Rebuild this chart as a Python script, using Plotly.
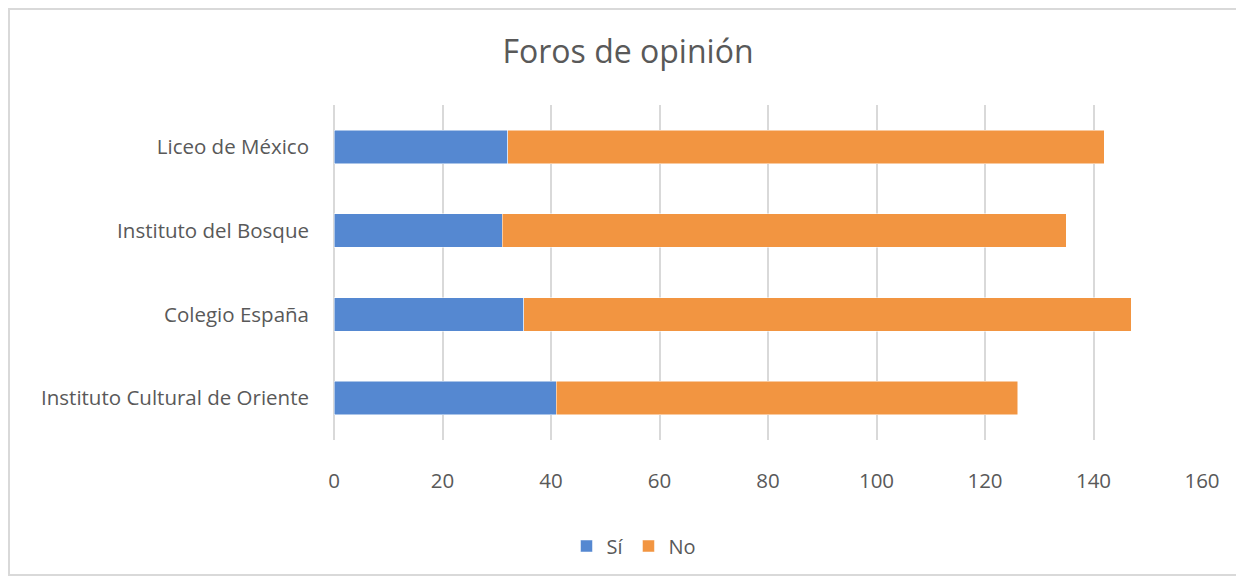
import plotly.graph_objects as go

# =========================
# DATOS
# =========================

colegios = [
    "Instituto Cultural de Oriente",
    "Colegio España",
    "Instituto del Bosque",
    "Liceo de México",
]
si = [41, 35, 31, 32]
no = [85, 112, 104, 110]

x_ticks = [0, 20, 40, 60, 80, 100, 120, 140, 160]

gris = "#595959"

# la página añade 8 px de margen al cuerpo; se compensa aquí
W, H = 1236, 571

fig = go.Figure()

fig.add_trace(go.Bar(
    y=colegios,
    x=si,
    name="Sí",
    orientation="h",
    marker=dict(color="#5588D1", line=dict(color="white", width=0.5))
))

fig.add_trace(go.Bar(
    y=colegios,
    x=no,
    name="No",
    orientation="h",
    marker=dict(color="#F29541", line=dict(color="white", width=0.5))
))

# =========================
# LAYOUT
# =========================

fig.update_layout(
    width=W,
    height=H,
    barmode="stack",
    bargap=0.6,
    plot_bgcolor="white",
    paper_bgcolor="white",
    font=dict(family="Open Sans, Liberation Sans, sans-serif", size=20.5, color=gris),
    margin=dict(l=326, r=42, t=97, b=139),
    title=dict(
        text="Foros de opinión",
        x=620 / W,
        xanchor="center",
        y=1 - 44 / H,
        yanchor="middle",
        font=dict(size=32, color=gris)
    ),
    xaxis=dict(
        range=[0, 160],
        tickvals=x_ticks,
        showgrid=True,
        gridcolor="#d9d9d9",
        gridwidth=2,
        zeroline=True,
        zerolinecolor="#d9d9d9",
        zerolinewidth=2,
        showline=False,
        ticks="",
        ticklabelstandoff=26,
        fixedrange=True
    ),
    yaxis=dict(
        showgrid=False,
        showline=False,
        ticks="",
        ticklabelstandoff=24,
        fixedrange=True
    ),
    legend=dict(
        orientation="h",
        x=(634 - 334) / 868,
        xanchor="center",
        y=(440 - 546) / 335,
        yanchor="middle",
        font=dict(size=20, color=gris),
        itemwidth=30,
        traceorder="normal"
    ),
    shapes=[
        dict(
            type="rect",
            xref="paper",
            yref="paper",
            x0=(9 - 334) / 868,
            x1=(1237 - 334) / 868,
            y0=(440 - 575) / 335,
            y1=(440 - 9) / 335,
            line=dict(color="#d9d9d9", width=2),
            fillcolor="rgba(0,0,0,0)",
            layer="below"
        )
    ]
)

fig.write_html("out.html")
